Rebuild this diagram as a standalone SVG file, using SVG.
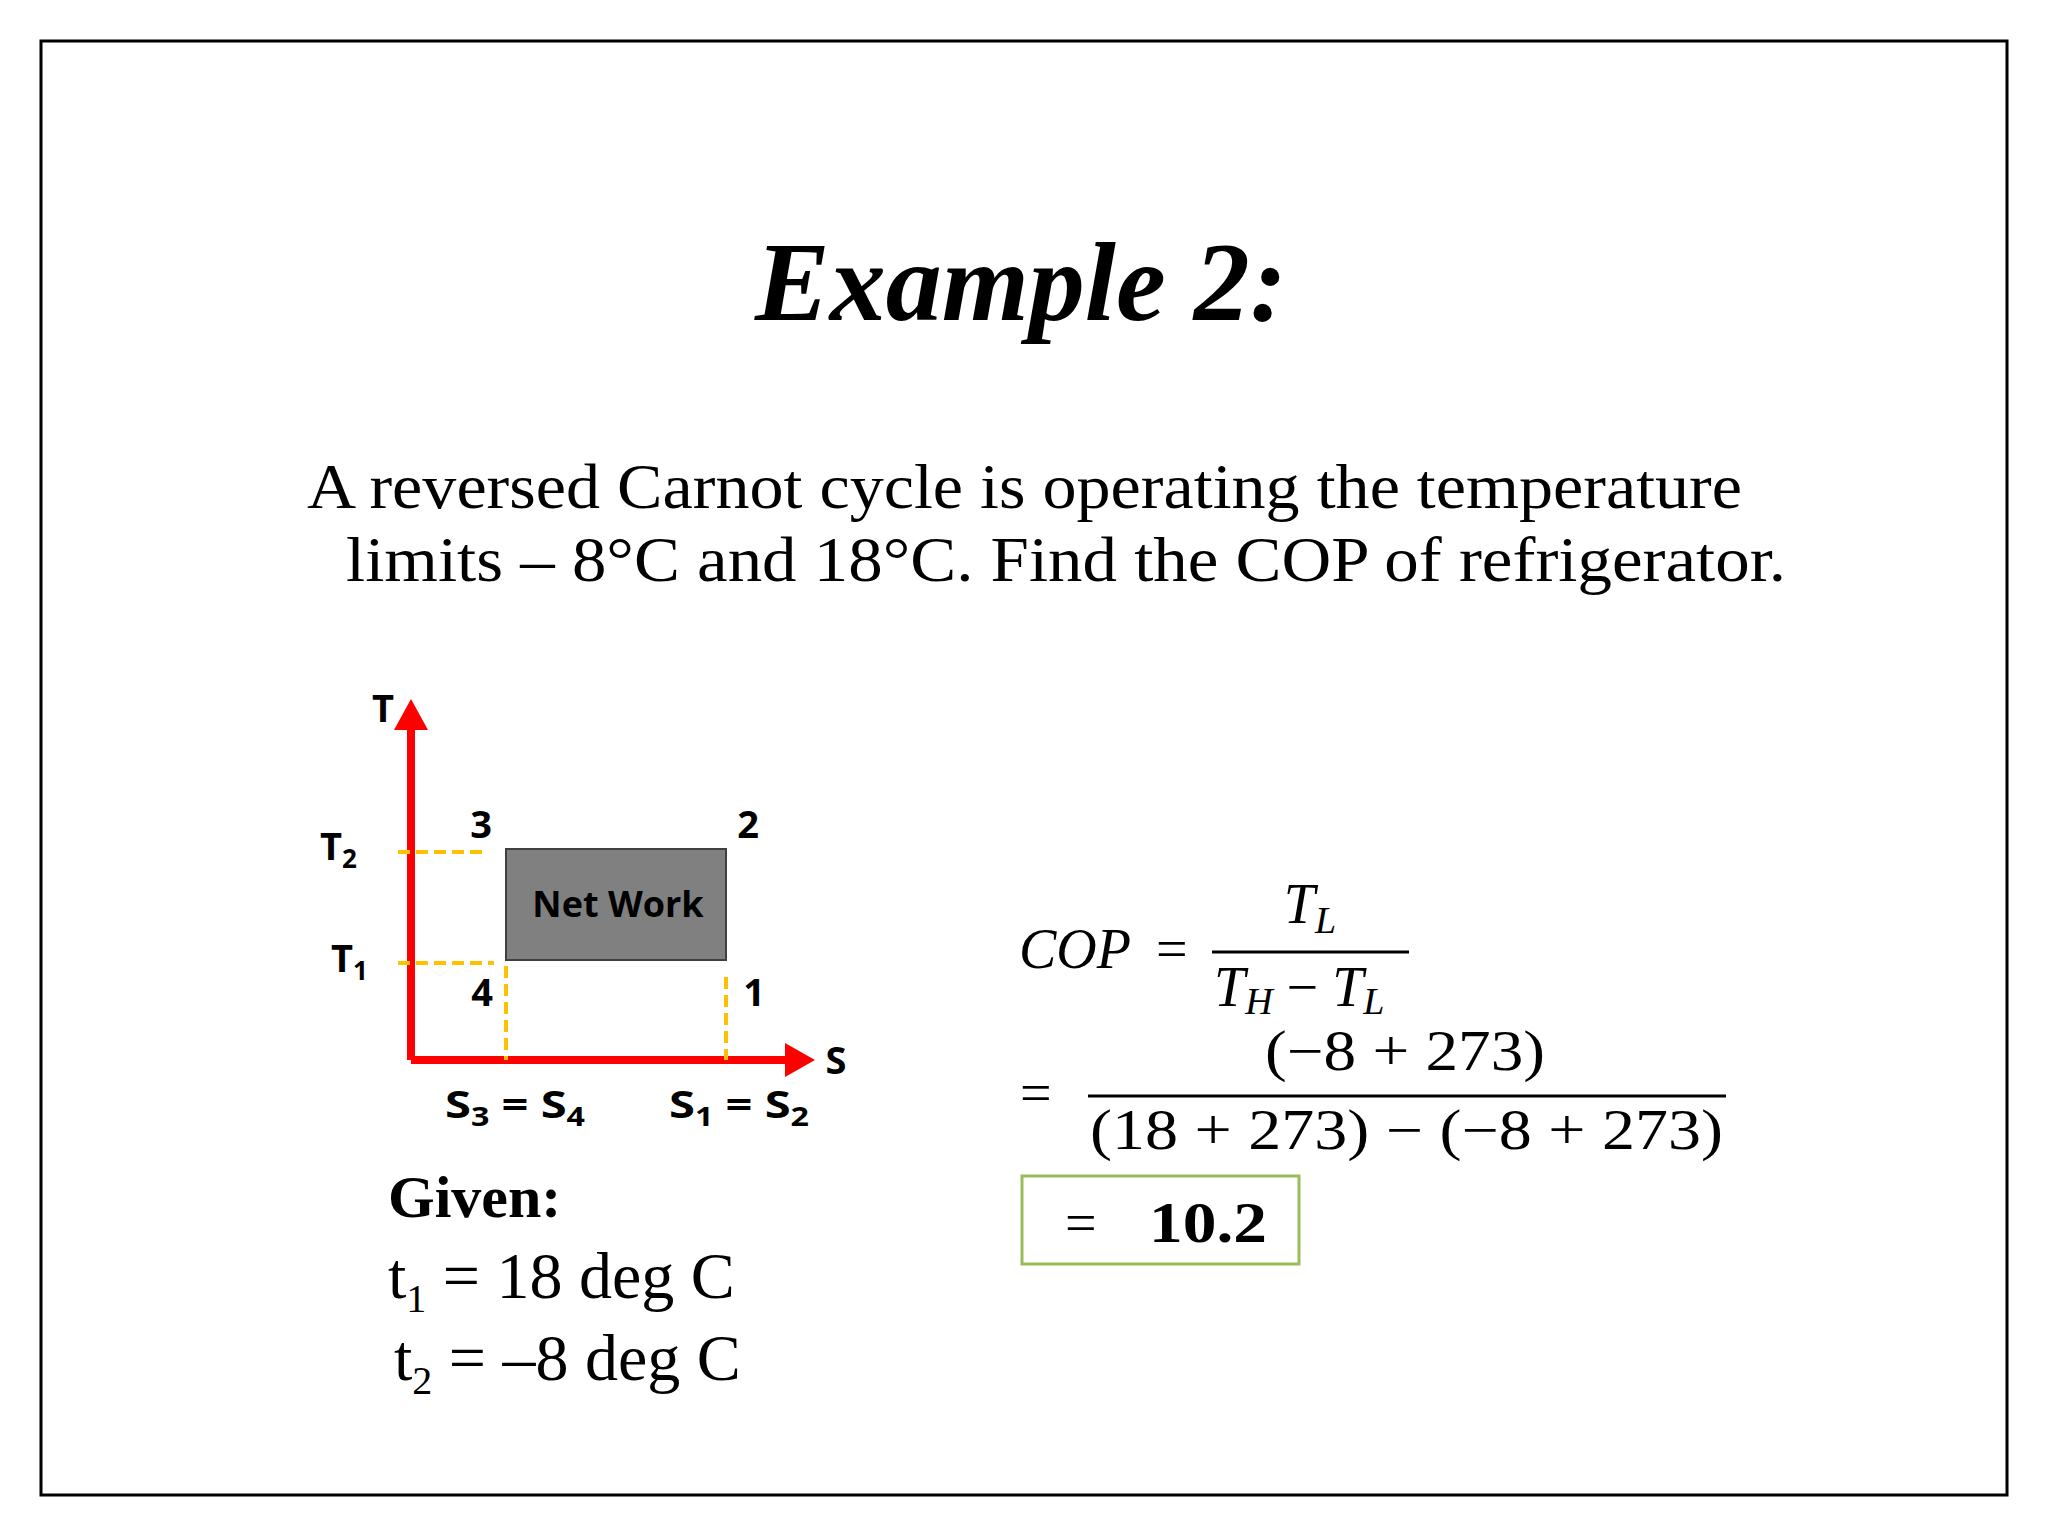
<svg xmlns="http://www.w3.org/2000/svg" width="2048" height="1536" viewBox="0 0 2048 1536">
<style>
.tr{font-family:"Liberation Serif",serif;fill:#000}
.cb{font-family:"Open Sans","Liberation Sans",sans-serif;font-weight:bold;fill:#000}
.m{font-family:"Liberation Serif",serif;font-size:56px;fill:#000}
.dash{stroke:#ffc000;stroke-width:4;stroke-dasharray:12,6;fill:none}
</style>
<rect width="2048" height="1536" fill="#fff"/>
<rect x="41" y="41" width="1966" height="1454" fill="none" stroke="#000" stroke-width="3"/>
<text class="tr" x="1021" y="320" font-size="112" font-weight="bold" font-style="italic" text-anchor="middle">Example 2:</text>
<text class="tr" x="307" y="508" font-size="64" textLength="1435" lengthAdjust="spacingAndGlyphs">A reversed Carnot cycle is operating the temperature</text>
<text class="tr" x="346" y="581" font-size="64" textLength="1440" lengthAdjust="spacingAndGlyphs">limits – 8°C and 18°C.  Find the COP of refrigerator.</text>
<g id="connectors">
<path d="M411,1060V712" stroke="#ff0000" stroke-width="8" fill="none"/>
<path d="M394,730L411,699L428,730z" fill="#ff0000"/>
<path d="M411,1060H795" stroke="#ff0000" stroke-width="8" fill="none"/>
<path d="M785,1043L815,1060L785,1077z" fill="#ff0000"/>
<path class="dash" d="M398,852H488"/>
<path class="dash" d="M398,963H494"/>
<path class="dash" d="M506,966V1060"/>
<path class="dash" d="M726,977V1060"/>
</g>
<g id="network"><rect x="506" y="849" width="220" height="111" fill="#808080" stroke="#404040" stroke-width="2"/>
<text class="cb" x="618" y="917" font-size="36" text-anchor="middle">Net Work</text></g>
<g id="labels" class="cb" font-size="38">
<text x="383" y="722" text-anchor="middle">T</text>
<text x="836" y="1074" text-anchor="middle">S</text>
<text x="481" y="838" text-anchor="middle">3</text>
<text x="748" y="838" text-anchor="middle">2</text>
<text x="482" y="1006" text-anchor="middle">4</text>
<text x="754" y="1006" text-anchor="middle">1</text>
<text x="320" y="860">T<tspan font-size="26" dy="8">2</tspan></text>
<text x="331" y="972">T<tspan font-size="26" dy="8">1</tspan></text>
<text x="445" y="1118" textLength="140" lengthAdjust="spacingAndGlyphs">S<tspan font-size="26" dy="8">3</tspan><tspan dy="-8"> = S</tspan><tspan font-size="26" dy="8">4</tspan></text>
<text x="669" y="1118" textLength="140" lengthAdjust="spacingAndGlyphs">S<tspan font-size="26" dy="8">1</tspan><tspan dy="-8"> = S</tspan><tspan font-size="26" dy="8">2</tspan></text>
</g>
<g id="given">
<text class="tr" x="388" y="1217" font-size="60" font-weight="bold">Given:</text>
<text class="tr" x="388" y="1298" font-size="66">t<tspan font-size="40" dy="14">1</tspan><tspan dy="-14"> = 18 deg C</tspan></text>
<text class="tr" x="394" y="1380" font-size="66">t<tspan font-size="40" dy="14">2</tspan><tspan dy="-14"> = –8 deg C</tspan></text>
</g>
<g id="equations">
<text class="m" x="1019" y="968" font-style="italic">COP</text>
<text class="m" x="1156" y="968">=</text>
<text class="m" x="1310" y="923" font-style="italic" text-anchor="middle">T<tspan font-size="38" dy="10">L</tspan></text>
<path d="M1212,952H1409" stroke="#000" stroke-width="3"/>
<text class="m" x="1214" y="1006" font-style="italic">T<tspan font-size="38" dy="8">H</tspan><tspan dy="-8" font-style="normal"> − </tspan>T<tspan font-size="38" dy="8">L</tspan></text>
<text class="m" x="1020" y="1112">=</text>
<text class="m" x="1405" y="1070" text-anchor="middle" textLength="280" lengthAdjust="spacingAndGlyphs">(−8 + 273)</text>
<path d="M1088,1096H1726" stroke="#000" stroke-width="3"/>
<text class="m" x="1090" y="1149" textLength="633" lengthAdjust="spacingAndGlyphs">(18 + 273) −  (−8 + 273)</text>
<rect x="1022" y="1176" width="277" height="88" fill="none" stroke="#9bbb59" stroke-width="3"/>
<text class="m" x="1065" y="1242">=</text>
<text class="m" x="1149" y="1242" font-weight="bold" textLength="118" lengthAdjust="spacingAndGlyphs">10.2</text>
</g>
</svg>
